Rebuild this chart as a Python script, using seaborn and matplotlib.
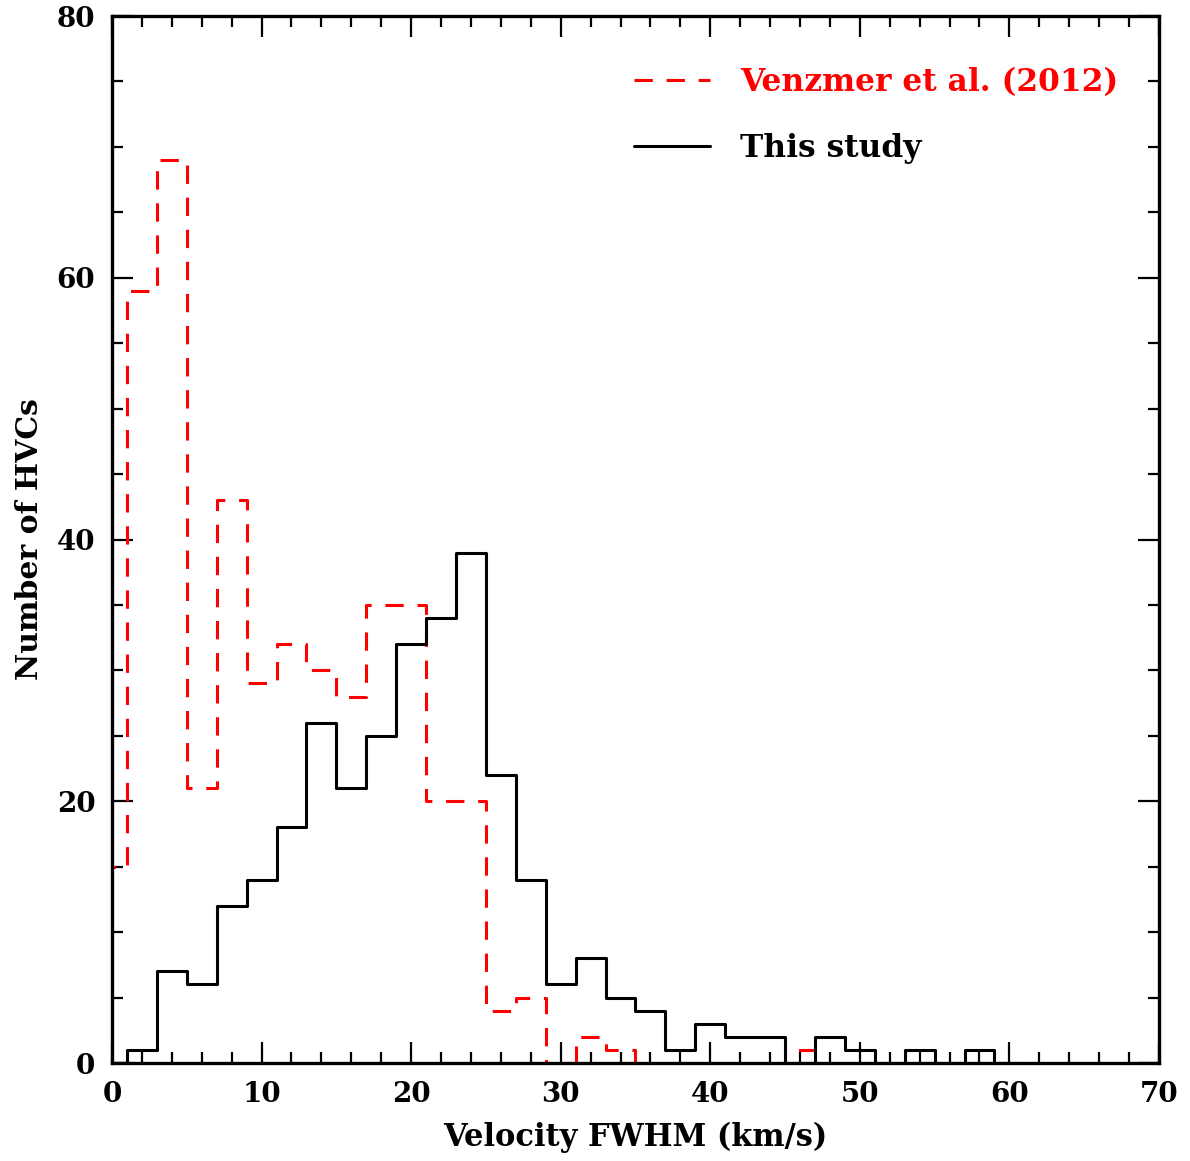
import numpy as np
import pandas as pd
import matplotlib
matplotlib.use("Agg")
import matplotlib.pyplot as plt
import seaborn as sns
from matplotlib.lines import Line2D
from matplotlib.ticker import MultipleLocator

# ---- data (bins of width 2 km/s) ----
this_edges = [-1, 1, 3, 5, 7, 9, 11, 13, 15, 17, 19, 21, 23, 25, 27, 29, 31, 33, 35, 37,
              39, 41, 43, 45, 47, 49, 51, 53, 55, 57, 59, 61]
this_counts = [0, 1, 7, 6, 12, 14, 18, 26, 21, 25, 32, 34, 39, 22, 14, 6, 8, 5, 4, 1,
               3, 2, 2, 0, 2, 1, 0, 1, 0, 1, 0]

venz_edges = [-1, 1, 3, 5, 7, 9, 11, 13, 15, 17, 19, 21, 23, 25, 27, 29, 31, 33, 35, 37,
              39, 41, 43, 45, 47, 49]
venz_counts = [15, 59, 69, 21, 43, 29, 32, 30, 28, 35, 35, 20, 20, 4, 5, 0, 2, 1, 0, 0,
               0, 0, 0, 1, 0]

label_venz = "Venzmer et al. (2012)"
label_this = "This study"
xlabel = "Velocity FWHM (km/s)"
ylabel = "Number of HVCs"

def centers(edges):
    e = np.asarray(edges, float)
    return (e[:-1] + e[1:]) / 2

df_this = pd.DataFrame({"v": centers(this_edges), "n": this_counts})
df_venz = pd.DataFrame({"v": centers(venz_edges), "n": venz_counts})

sns.set_style("ticks")
plt.rcParams["font.family"] = ["DejaVu Serif"]
plt.rcParams["font.weight"] = "bold"
plt.rcParams["text.color"] = "black"
plt.rcParams["axes.labelcolor"] = "black"

fig = plt.figure(figsize=(11.9, 11.61), dpi=100)
ax = fig.add_axes([0.0941, 0.0844, 0.8798, 0.9018])

lw = 2.2
dash = (0, (6, 4.5))
sns.histplot(data=df_venz, x="v", weights="n", bins=venz_edges, element="step",
             fill=False, color="red", linewidth=lw, linestyle=dash, ax=ax)
sns.histplot(data=df_this, x="v", weights="n", bins=this_edges, element="step",
             fill=False, color="black", linewidth=lw, ax=ax)

ax.set_xlim(0, 70)
ax.set_ylim(0, 80)
ax.xaxis.set_major_locator(MultipleLocator(10))
ax.xaxis.set_minor_locator(MultipleLocator(2))
ax.yaxis.set_major_locator(MultipleLocator(20))
ax.yaxis.set_minor_locator(MultipleLocator(5))
ax.tick_params(which="both", direction="in", top=True, right=True, width=1.6,
               labelsize=20, colors="black")
ax.tick_params(which="major", length=15)
ax.tick_params(which="minor", length=8)
ax.tick_params(axis="x", which="major", pad=13)
ax.tick_params(axis="y", which="major", pad=12)
for s in ax.spines.values():
    s.set_linewidth(2.4)
    s.set_color("black")
    s.set_visible(True)

ax.set_xlabel(xlabel, fontsize=22, fontweight="bold", labelpad=10, color="black")
ax.set_ylabel(ylabel, fontsize=21.5, fontweight="bold", labelpad=9, color="black")

handles = [Line2D([], [], color="red", lw=lw, linestyle=dash),
           Line2D([], [], color="black", lw=lw)]
leg = ax.legend(handles, [label_venz, label_this], loc="upper right",
                bbox_to_anchor=(0.961, 0.951), borderaxespad=0, borderpad=0,
                frameon=False, fontsize=22.5,
                handlelength=2.45, handletextpad=0.94, labelspacing=1.12)
for t, c in zip(leg.get_texts(), ["red", "black"]):
    t.set_color(c)
    t.set_fontweight("bold")

fig.savefig("out.png", dpi=100)
